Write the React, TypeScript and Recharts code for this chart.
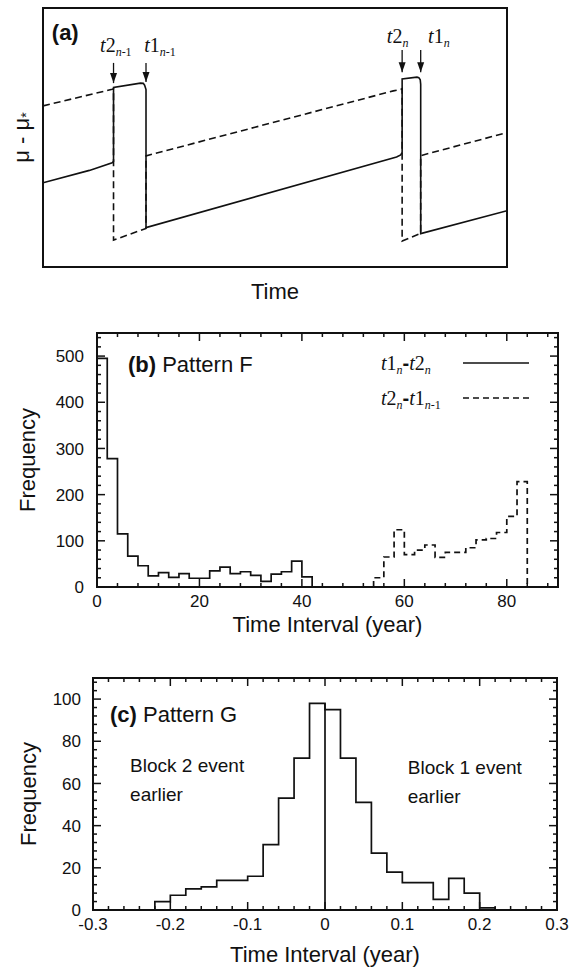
import React from "react";
import {
  LineChart,
  Line,
  XAxis,
  YAxis,
  ReferenceArea,
  ReferenceDot,
  ReferenceLine,
  Legend,
} from "recharts";

const SANS = '"Liberation Sans", Arial, Helvetica, sans-serif';
const SERIF = '"Liberation Serif", "Times New Roman", Times, serif';
const INK = "#111";

// ---- panel (a): schematic of mu - mu* for the two blocks (arbitrary units)
const solidX = [0, 10, 14.9, 15.2, 15.2, 21.0, 21.6, 21.9, 22.2, 22.2, 76.2, 77.1, 77.4, 77.4, 80.6, 81.0, 81.3, 81.4, 81.4, 100];
const solidY = [32.5, 37.3, 40.2, 40.8, 69.3, 71.0, 70.9, 70.2, 68.5, 15.2, 42.5, 43.3, 44.2, 72.6, 73.3, 73.1, 72.3, 70.5, 12.9, 21.7];
const dashX = [0, 14.9, 15.2, 15.2, 22.2, 22.2, 75.5, 77.1, 77.4, 77.4, 81.4, 81.4, 100];
const dashY = [62.2, 68.6, 68.8, 10.4, 14.9, 42.9, 68.0, 68.6, 68.9, 10.0, 13.0, 43.0, 51.9];

// event times t2(n-1), t1(n-1), t2(n), t1(n)
const eventX = [15.2, 22.2, 77.4, 81.4];
const arrowTop = [78.8, 78.8, 83.8, 83.8];
const arrowTip = [71.0, 71.4, 75.2, 75.2];
const eventLabelX = [12.3, 21.8, 74.1, 83.0];
const eventLabelY = [83.0, 83.0, 86.5, 86.5];

type Seg = { t: string; it?: boolean; sub?: boolean; sans?: boolean };
const eventLabels: Seg[][] = [
  [{ t: "t", it: true }, { t: "2" }, { t: "n", it: true, sub: true }, { t: "-1", sub: true }],
  [{ t: "t", it: true }, { t: "1" }, { t: "n", it: true, sub: true }, { t: "-1", sub: true }],
  [{ t: "t", it: true }, { t: "2" }, { t: "n", it: true, sub: true }],
  [{ t: "t", it: true }, { t: "1" }, { t: "n", it: true, sub: true }],
];

// ---- panel (b): pattern F, 2-year bins
const binWidthF = 2;
const edgesT1T2 = [0, 2, 4, 6, 8, 10, 12, 14, 16, 18, 20, 22, 24, 26, 28, 30, 32, 34, 36, 38, 40];
const countsT1T2 = [495, 278, 115, 67, 46, 24, 31, 21, 29, 19, 19, 35, 43, 29, 33, 25, 12, 28, 33, 56, 22];
const edgesT2T1 = [54, 56, 58, 60, 62, 64, 66, 68, 70, 72, 74, 76, 78, 80, 82];
const countsT2T1 = [20, 65, 124, 70, 80, 91, 64, 75, 75, 85, 102, 105, 118, 153, 228];
const bXLabels = [0, 20, 40, 60, 80];
const bYLabels = [0, 100, 200, 300, 400, 500];

const legendF: Record<string, Seg[]> = {
  "t1n-t2n": [
    { t: "t", it: true }, { t: "1" }, { t: "n", it: true, sub: true },
    { t: "-", sans: true },
    { t: "t", it: true }, { t: "2" }, { t: "n", it: true, sub: true },
  ],
  "t2n-t1n-1": [
    { t: "t", it: true }, { t: "2" }, { t: "n", it: true, sub: true },
    { t: "-", sans: true },
    { t: "t", it: true }, { t: "1" }, { t: "n", it: true, sub: true }, { t: "-1", sub: true },
  ],
};

// ---- panel (c): pattern G, 0.02-year bins
const binWidthG = 0.02;
const edgesG = [-0.22, -0.2, -0.18, -0.16, -0.14, -0.12, -0.1, -0.08, -0.06, -0.04, -0.02, 0, 0.02, 0.04, 0.06, 0.08, 0.1, 0.12, 0.14, 0.16, 0.18, 0.2];
const countsG = [4, 7, 10, 11, 14, 14, 16, 31, 53, 72, 98, 95, 72, 51, 27, 18, 13, 13, 5, 15, 8, 1];
const cXLabels = [-0.3, -0.2, -0.1, 0, 0.1, 0.2, 0.3];
const cYLabels = [0, 20, 40, 60, 80, 100];

const toPts = (xs: number[], ys: number[]) => xs.map((x, i) => ({ x, y: ys[i] }));
const stepPts = (edges: number[], counts: number[], w: number) => [
  { x: edges[0], y: 0 },
  ...edges.map((x, i) => ({ x, y: counts[i] })),
  { x: +(edges[edges.length - 1] + w).toFixed(4), y: 0 },
];
const tickRange = (lo: number, hi: number, step: number) => {
  const n = Math.round((hi - lo) / step);
  return Array.from({ length: n + 1 }, (_, i) => +(lo + i * step).toFixed(4));
};
const isMajor = (v: number, step: number) => Math.abs(v / step - Math.round(v / step)) < 1e-6;

const Rich = ({ x, y, segs, size, subSize, anchor = "start" }: any) => {
  let prevSub = false;
  return (
    <text x={x} y={y} fontFamily={SERIF} fontSize={size} fill={INK} textAnchor={anchor}>
      {segs.map((s: Seg, i: number) => {
        const shift = s.sub && !prevSub ? size * 0.22 : !s.sub && prevSub ? -size * 0.22 : 0;
        prevSub = !!s.sub;
        return (
          <tspan
            key={i}
            dy={shift || undefined}
            fontStyle={s.it ? "italic" : undefined}
            fontSize={s.sub ? subSize : undefined}
            fontFamily={s.sans ? SANS : undefined}
            fontWeight={s.sans ? "bold" : undefined}
          >
            {s.t}
          </tspan>
        );
      })}
    </text>
  );
};

// tick labels only; tick marks are drawn as reference segments inside the frame
const labelTick = (side: "bottom" | "left", fmt: (v: number) => string, gap: number) => (props: any) => {
  const { x, y, payload } = props;
  const v = Number(payload.value);
  return side === "bottom" ? (
    <text x={x} y={y + gap} textAnchor="middle" fontFamily={SANS} fontSize={17} fill={INK}>
      {fmt(v)}
    </text>
  ) : (
    <text x={x - gap} y={y} dy="0.36em" textAnchor="end" fontFamily={SANS} fontSize={17} fill={INK}>
      {fmt(v)}
    </text>
  );
};

// frame + inward major/minor ticks on all four sides
const frameWithTicks = (
  id: string,
  xd: [number, number],
  yd: [number, number],
  plotW: number,
  plotH: number,
  xt: number[],
  xMajor: number,
  yt: number[],
  yMajor: number
) => {
  const xpp = (xd[1] - xd[0]) / plotW;
  const ypp = (yd[1] - yd[0]) / plotH;
  const st = { stroke: INK, strokeWidth: 1.5, ifOverflow: "visible" as const };
  const out: React.ReactNode[] = [];
  xt.forEach((v) => {
    const l = (isMajor(v, xMajor) ? 8 : 4) * ypp;
    out.push(<ReferenceLine key={`${id}xb${v}`} segment={[{ x: v, y: yd[0] }, { x: v, y: yd[0] + l }]} {...st} />);
    out.push(<ReferenceLine key={`${id}xt${v}`} segment={[{ x: v, y: yd[1] }, { x: v, y: yd[1] - l }]} {...st} />);
  });
  yt.forEach((v) => {
    const l = (isMajor(v, yMajor) ? 8 : 4) * xpp;
    out.push(<ReferenceLine key={`${id}yl${v}`} segment={[{ x: xd[0], y: v }, { x: xd[0] + l, y: v }]} {...st} />);
    out.push(<ReferenceLine key={`${id}yr${v}`} segment={[{ x: xd[1], y: v }, { x: xd[1] - l, y: v }]} {...st} />);
  });
  out.push(
    <ReferenceArea key={`${id}frame`} x1={xd[0]} x2={xd[1]} y1={yd[0]} y2={yd[1]} fill="none" fillOpacity={0} stroke={INK} strokeWidth={2} ifOverflow="visible" />
  );
  return out;
};

const xTitle = (text: string, dy: number) => (p: any) => {
  const vb = p.viewBox || p;
  return (
    <text x={vb.x + vb.width / 2} y={vb.y + dy} textAnchor="middle" fontFamily={SANS} fontSize={22} fill={INK}>
      {text}
    </text>
  );
};

const yTitle = (content: React.ReactNode, cx: number) => (p: any) => {
  const vb = p.viewBox || p;
  const cy = vb.y + vb.height / 2;
  return (
    <text
      x={cx}
      y={cy}
      transform={`rotate(-90 ${cx} ${cy})`}
      textAnchor="middle"
      dominantBaseline="central"
      fontFamily={SANS}
      fontSize={22}
      fill={INK}
    >
      {content}
    </text>
  );
};

const noteAt = (key: string, x: number, y: number, render: (px: number, py: number) => React.ReactNode) => (
  <ReferenceDot
    key={key}
    x={x}
    y={y}
    r={0}
    fill="none"
    stroke="none"
    ifOverflow="visible"
    label={(p: any) => {
      const vb = p.viewBox || p;
      return <g>{render(vb.x, vb.y)}</g>;
    }}
  />
);

const arrowHead = (p: any) =>
  p.index === 1 ? (
    <path
      key={`h${p.index}`}
      d={`M${p.cx - 3.5},${p.cy - 10} L${p.cx},${p.cy} L${p.cx + 3.5},${p.cy - 10} Z`}
      fill={INK}
      stroke="none"
    />
  ) : (
    <g key={`h${p.index}`} />
  );

const PanelA = () => (
  <LineChart width={583} height={310} margin={{ top: 8, right: 76, bottom: 0, left: 0 }}>
    <XAxis dataKey="x" type="number" domain={[0, 100]} allowDataOverflow tick={false} tickLine={false} axisLine={false} height={43} label={xTitle("Time", 32)} />
    <YAxis
      type="number"
      domain={[0, 100]}
      allowDataOverflow
      tick={false}
      tickLine={false}
      axisLine={false}
      width={43}
      label={yTitle(
        <>
          {"\u03bc - \u03bc"}
          <tspan dy={5} fontSize={14}>*</tspan>
        </>,
        21
      )}
    />
    <ReferenceArea x1={0} x2={100} y1={0} y2={100} fill="none" fillOpacity={0} stroke={INK} strokeWidth={2} ifOverflow="visible" />
    <Line data={toPts(dashX, dashY)} dataKey="y" type="linear" stroke={INK} strokeWidth={1.6} strokeDasharray="7 4" dot={false} isAnimationActive={false} />
    <Line data={toPts(solidX, solidY)} dataKey="y" type="linear" stroke={INK} strokeWidth={1.6} dot={false} isAnimationActive={false} />
    {eventX.map((ex, i) => (
      <Line
        key={`arrow${i}`}
        data={[{ x: ex, y: arrowTop[i] }, { x: ex, y: arrowTip[i] }]}
        dataKey="y"
        type="linear"
        stroke={INK}
        strokeWidth={1.3}
        dot={arrowHead}
        isAnimationActive={false}
      />
    ))}
    {noteAt("a", 1.9, 87.6, (px, py) => (
      <text x={px} y={py} fontFamily={SANS} fontWeight="bold" fontSize={22} fill={INK}>(a)</text>
    ))}
    {eventLabels.map((segs, i) =>
      noteAt(`ev${i}`, eventLabelX[i], eventLabelY[i], (px, py) => <Rich x={px} y={py} segs={segs} size={20} subSize={12} />)
    )}
  </LineChart>
);

const renderLegendF = (props: any) => {
  const items = props.payload || [];
  return (
    <svg width={220} height={70}>
      {items.map((it: any, i: number) => {
        const base = 20 + i * 35;
        const dash = it.payload?.strokeDasharray;
        return (
          <g key={i}>
            <Rich x={51} y={base} segs={legendF[it.value] || []} size={20} subSize={12} />
            <line x1={133} x2={199} y1={base - 7} y2={base - 7} stroke={INK} strokeWidth={1.6} strokeDasharray={dash} />
          </g>
        );
      })}
    </svg>
  );
};

const PanelB = () => {
  const xd: [number, number] = [0, 90];
  const yd: [number, number] = [0, 550];
  const xStep = bXLabels[1] - bXLabels[0];
  const yStep = bYLabels[1] - bYLabels[0];
  return (
    <LineChart width={583} height={330} margin={{ top: 23, right: 25, bottom: 0, left: 0 }}>
      <XAxis dataKey="x" type="number" domain={xd} allowDataOverflow ticks={bXLabels} interval={0} tickSize={0} tickMargin={0} tickLine={false} axisLine={false}
        tick={labelTick("bottom", String, 20)} height={53} label={xTitle("Time Interval (year)", 45)} />
      <YAxis type="number" domain={yd} allowDataOverflow ticks={bYLabels} interval={0} tickSize={0} tickMargin={0} tickLine={false} axisLine={false}
        tick={labelTick("left", String, 13)} width={97} label={yTitle("Frequency", 27)} />
      <Legend verticalAlign="middle" align="center" layout="horizontal" wrapperStyle={{ left: 330, top: 40, width: 220, height: 70 }} content={renderLegendF} />
      {frameWithTicks("b", xd, yd, 461, 254, tickRange(0, 88, xStep / 5), xStep, tickRange(0, 540, yStep / 5), yStep)}
      <Line name="t1n-t2n" data={stepPts(edgesT1T2, countsT1T2, binWidthF)} dataKey="y" type="stepAfter" stroke={INK} strokeWidth={1.7} dot={false} isAnimationActive={false} />
      <Line name="t2n-t1n-1" data={stepPts(edgesT2T1, countsT2T1, binWidthF)} dataKey="y" type="stepAfter" stroke={INK} strokeWidth={1.7} strokeDasharray="6 4" dot={false} isAnimationActive={false} />
      {noteAt("b", 6.05, 465, (px, py) => (
        <text x={px} y={py} fontFamily={SANS} fontSize={22} fill={INK}>
          <tspan fontWeight="bold">(b)</tspan> Pattern F
        </text>
      ))}
    </LineChart>
  );
};

const fmtG = (v: number) => (Math.abs(v) < 1e-9 ? "0" : v.toFixed(1));

const PanelC = () => {
  const xd: [number, number] = [-0.3, 0.3];
  const yd: [number, number] = [0, 110];
  const xStep = +(cXLabels[1] - cXLabels[0]).toFixed(4);
  const yStep = cYLabels[1] - cYLabels[0];
  const zi = edgesG.indexOf(0);
  const zeroTop = Math.max(countsG[zi], countsG[zi - 1]);
  return (
    <LineChart width={583} height={329} margin={{ top: 38, right: 26, bottom: 0, left: 0 }}>
      <XAxis dataKey="x" type="number" domain={xd} allowDataOverflow ticks={cXLabels} interval={0} tickSize={0} tickMargin={0} tickLine={false} axisLine={false}
        tick={labelTick("bottom", fmtG, 20)} height={59} label={xTitle("Time Interval (year)", 52)} />
      <YAxis type="number" domain={yd} allowDataOverflow ticks={cYLabels} interval={0} tickSize={0} tickMargin={0} tickLine={false} axisLine={false}
        tick={labelTick("left", String, 12)} width={93} label={yTitle("Frequency", 28)} />
      {frameWithTicks("c", xd, yd, 464, 232, tickRange(-0.3, 0.3, xStep / 5), xStep, tickRange(0, 108, yStep / 5), yStep)}
      <ReferenceLine segment={[{ x: 0, y: 0 }, { x: 0, y: zeroTop }]} stroke={INK} strokeWidth={1.7} />
      <Line data={stepPts(edgesG, countsG, binWidthG)} dataKey="y" type="stepAfter" stroke={INK} strokeWidth={1.7} dot={false} isAnimationActive={false} />
      {noteAt("c", -0.278, 89.1, (px, py) => (
        <text x={px} y={py} fontFamily={SANS} fontSize={22} fill={INK}>
          <tspan fontWeight="bold">(c)</tspan> Pattern G
        </text>
      ))}
      {noteAt("blk2", -0.252, 65.4, (px, py) => (
        <text x={px} y={py} fontFamily={SANS} fontSize={19} fill={INK}>
          <tspan x={px}>Block 2 event</tspan>
          <tspan x={px} dy={29}>earlier</tspan>
        </text>
      ))}
      {noteAt("blk1", 0.107, 64.5, (px, py) => (
        <text x={px} y={py} fontFamily={SANS} fontSize={19} fill={INK}>
          <tspan x={px}>Block 1 event</tspan>
          <tspan x={px} dy={29}>earlier</tspan>
        </text>
      ))}
    </LineChart>
  );
};

export default function App() {
  return (
    <div style={{ position: "absolute", left: 0, top: 0, width: 583, height: 969, background: "#fff" }}>
      <div style={{ position: "absolute", left: 0, top: 0 }}>
        <PanelA />
      </div>
      <div style={{ position: "absolute", left: 0, top: 310 }}>
        <PanelB />
      </div>
      <div style={{ position: "absolute", left: 0, top: 640 }}>
        <PanelC />
      </div>
    </div>
  );
}
